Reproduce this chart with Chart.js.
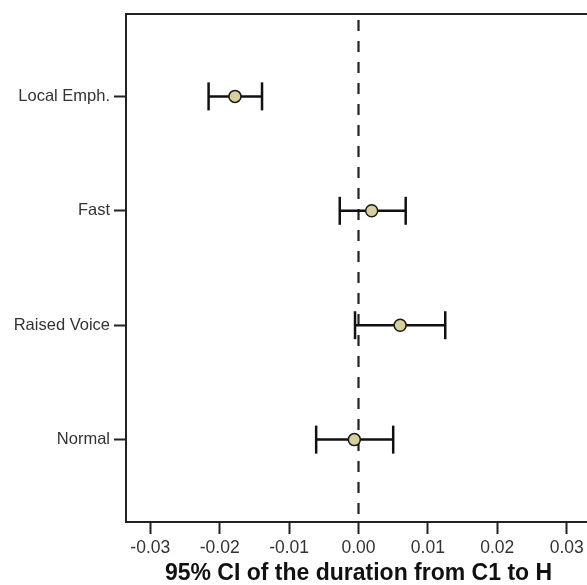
<!DOCTYPE html>
<html>
<head>
<meta charset="utf-8">
<script src="https://cdn.jsdelivr.net/npm/chart.js@4"></script>
<style>
html,body{margin:0;padding:0;background:#fff;overflow:hidden;}
#wrap{width:591px;height:585px;position:relative;}
</style>
</head>
<body>
<div id="wrap"><canvas id="c" width="591" height="585"></canvas></div>
<script>
const categories = ["Normal", "Raised Voice", "Fast", "Local Emph."];
const means = [-0.0006, 0.0060, 0.0019, -0.0178];
const lower = [-0.0061, -0.0005, -0.0027, -0.0216];
const upper = [0.0050, 0.0125, 0.0068, -0.0139];
const xTicks = [-0.03, -0.02, -0.01, 0.00, 0.01, 0.02, 0.03];
const xTitle = "95% CI of the duration from C1 to H";
const refValue = 0;

const yMin = -0.72, yMax = categories.length - 1 + 0.72;
const xMin = -0.0335, xMax = 0.0335;

const datasets = [];
datasets.push({
  label: "mean",
  data: categories.map((c, i) => ({x: means[i], y: i})),
  showLine: false,
  pointRadius: 6,
  pointHoverRadius: 6,
  pointBackgroundColor: "#d6d09a",
  pointBorderColor: "#1a1a1a",
  pointBorderWidth: 1.5
});
categories.forEach((c, i) => {
  datasets.push({
    label: c,
    data: [{x: lower[i], y: i}, {x: upper[i], y: i}],
    showLine: true,
    borderColor: "#111",
    borderWidth: 2.5,
    pointStyle: "line",
    rotation: 90,
    pointRadius: 14,
    pointHoverRadius: 14,
    pointBorderColor: "#111",
    pointBorderWidth: 2.5
  });
});
datasets.push({
  label: "ref",
  data: [{x: refValue, y: yMax}, {x: refValue, y: yMin}],
  showLine: true,
  borderColor: "#222",
  borderWidth: 2.2,
  borderDash: [11, 10],
  borderDashOffset: -6,
  pointRadius: 0
});

const fam = "Liberation Sans, Arial, sans-serif";

new Chart(document.getElementById("c"), {
  type: "scatter",
  data: {datasets},
  options: {
    responsive: false,
    animation: false,
    layout: {autoPadding: false, padding: {top: 14, right: 0, left: 0, bottom: 0}},
    plugins: {legend: {display: false}, tooltip: {enabled: false}},
    scales: {
      x: {
        type: "linear",
        position: "bottom",
        min: xMin, max: xMax,
        afterBuildTicks: s => { s.ticks = xTicks.map(v => ({value: v})); },
        afterFit: s => { s.height = 63; s.paddingLeft = 0; s.paddingRight = 0; },
        ticks: {
          callback: v => v.toFixed(2),
          color: "#333",
          font: {family: fam, size: 17.5},
          padding: 4,
          maxRotation: 0
        },
        grid: {drawOnChartArea: false, drawTicks: true, tickLength: 12, tickColor: "#222", tickWidth: 2},
        border: {display: true, color: "#222", width: 2},
        title: {
          display: true,
          text: xTitle,
          color: "#111",
          font: {family: fam, size: 23, weight: "bold", lineHeight: 1.0},
          padding: {top: 0, bottom: 0}
        }
      },
      x2: {
        type: "linear",
        position: "top",
        min: xMin, max: xMax,
        afterFit: s => { s.height = 0; s.paddingLeft = 0; s.paddingRight = 0; },
        ticks: {display: false},
        grid: {display: false, drawTicks: false},
        border: {display: true, color: "#222", width: 2}
      },
      y: {
        type: "linear",
        min: yMin, max: yMax,
        afterBuildTicks: s => { s.ticks = categories.map((c, i) => ({value: i})); },
        afterFit: s => { s.width = 126; s.paddingTop = 0; s.paddingBottom = 0; },
        ticks: {
          callback: v => categories[v],
          color: "#333",
          font: {family: fam, size: 16.5},
          padding: 4
        },
        grid: {drawOnChartArea: false, drawTicks: true, tickLength: 12, tickColor: "#222", tickWidth: 2},
        border: {display: true, color: "#222", width: 2}
      }
    }
  }
});
</script>
</body>
</html>
